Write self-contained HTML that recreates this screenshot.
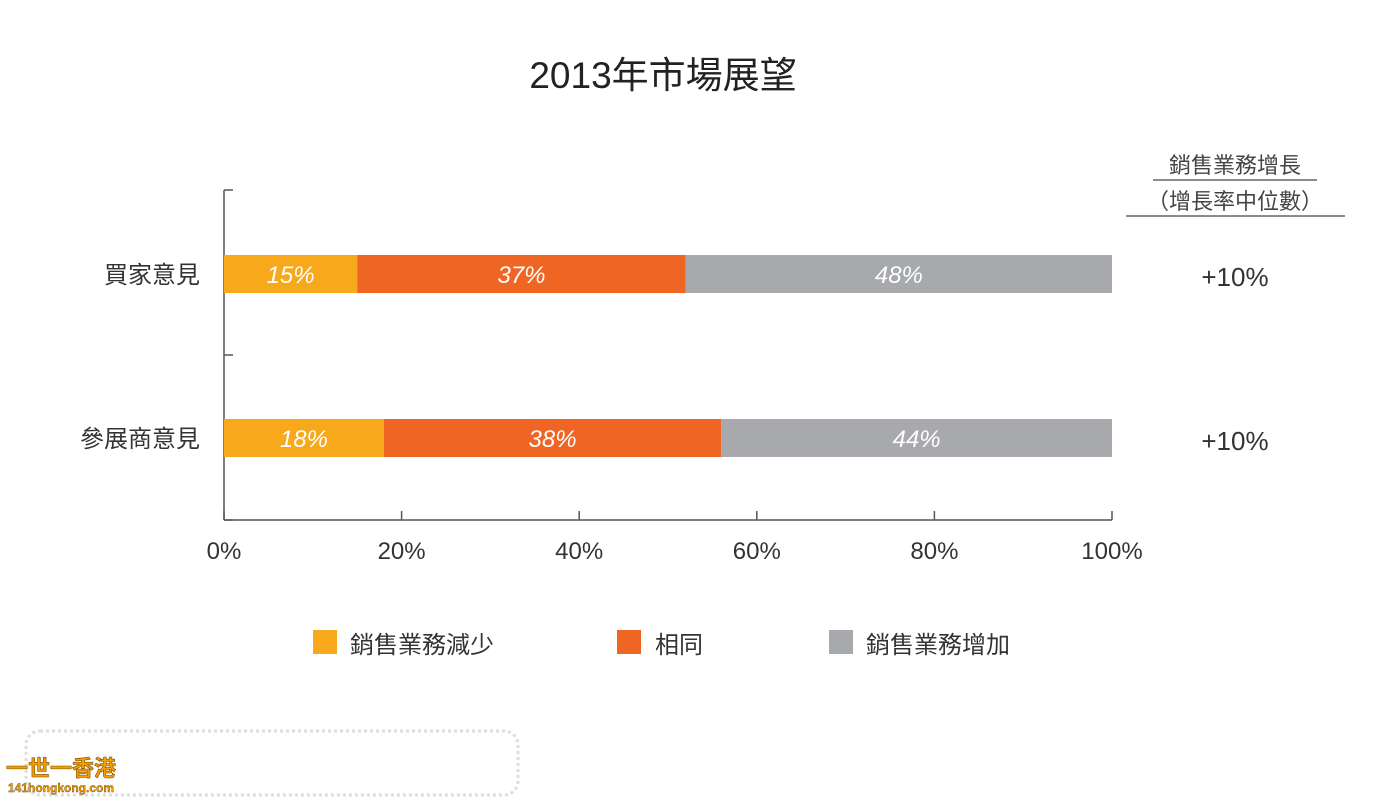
<!DOCTYPE html>
<html><head><meta charset="utf-8"><style>
body{margin:0;width:1378px;height:799px;background:#fff;overflow:hidden;font-family:"Liberation Sans","Noto Sans CJK TC",sans-serif;}
svg text{font-family:"Liberation Sans","Noto Sans CJK TC",sans-serif;}
</style></head><body>
<svg width="1378" height="799">
<text x="663" y="88" text-anchor="middle" font-size="37" fill="#222">2013年市場展望</text>
<g id="plot"></g>
<g>
<text x="1235" y="173" text-anchor="middle" font-size="22" fill="#444">銷售業務增長</text>
<line x1="1153" y1="180" x2="1317" y2="180" stroke="#666" stroke-width="1.5"/>
<text x="1235" y="209" text-anchor="middle" font-size="22" fill="#444">（增長率中位數）</text>
<line x1="1126" y1="216" x2="1345" y2="216" stroke="#666" stroke-width="1.5"/>
</g>
<g>
<rect x="313" y="630" width="24" height="24" fill="#f7a81b"/>
<text x="350" y="653" font-size="24" fill="#333">銷售業務減少</text>
<rect x="617" y="630" width="24" height="24" fill="#ef6524"/>
<text x="655" y="653" font-size="24" fill="#333">相同</text>
<rect x="829" y="630" width="24" height="24" fill="#a7a9ac"/>
<text x="866" y="653" font-size="24" fill="#333">銷售業務增加</text>
</g>
<g>
<rect x="26" y="731" width="492" height="64" rx="14" fill="#fff" stroke="#ddd" stroke-width="3" stroke-dasharray="3 3"/>
<text x="6" y="776" font-size="22" font-weight="bold" fill="#f5a000" stroke="#7a4a00" stroke-width="0.6">一世一香港</text>
<text x="8" y="792" font-size="12" font-weight="bold" fill="#f5a000" stroke="#7a4a00" stroke-width="0.4">141hongkong.com</text>
</g>
</svg>
<script>
const categories=["買家意見","參展商意見"];
const decrease=[15,18];
const same=[37,38];
const increase=[48,44];
const growth=["+10%","+10%"];
const ticks=[0,20,40,60,80,100];
const NS="http://www.w3.org/2000/svg";
const g=document.getElementById('plot');
const x=v=>224+v*8.88;
const yc=[274,438];
function el(t,a){const e=document.createElementNS(NS,t);for(const k in a)e.setAttribute(k,a[k]);g.appendChild(e);return e;}
let ax=el('line',{x1:224,y1:190,x2:224,y2:520,stroke:'#555','stroke-width':1.5});


[190,355,520].forEach(y=>{const t=el('line',{x1:224,y1:y,x2:233,y2:y,stroke:'#555','stroke-width':1.5});

});
let bx=el('line',{x1:224,y1:520,x2:1112,y2:520,stroke:'#555','stroke-width':1.5});


ticks.forEach(v=>{const t=el('line',{x1:x(v),y1:511,x2:x(v),y2:520,stroke:'#555','stroke-width':1.5});


const l=el('text',{x:x(v),y:559,'text-anchor':'middle','font-size':24,fill:'#333'});l.textContent=v+'%';

});
const series=[[decrease,'#f7a81b','decrease'],[same,'#ef6524','same'],[increase,'#a7a9ac','increase']];
categories.forEach((c,i)=>{
 const cl=el('text',{x:200,y:yc[i]+9,'text-anchor':'end','font-size':24,fill:'#333'});cl.textContent=c;
 
 
 let acc=0;
 series.forEach(([arr,col,nm])=>{
  const r=el('rect',{x:x(acc),y:yc[i]-19,width:x(acc+arr[i])-x(acc),height:38,fill:col});
  
  
  const t=el('text',{x:x(acc+arr[i]/2),y:yc[i]+9,'text-anchor':'middle','font-size':24,'font-style':'italic',fill:'#fff'});t.textContent=arr[i]+'%';
  
  
  acc+=arr[i];
 });
 const gl=el('text',{x:1235,y:yc[i]+12,'text-anchor':'middle','font-size':26,fill:'#333'});gl.textContent=growth[i];
 
 
});
</script>
</body></html>
